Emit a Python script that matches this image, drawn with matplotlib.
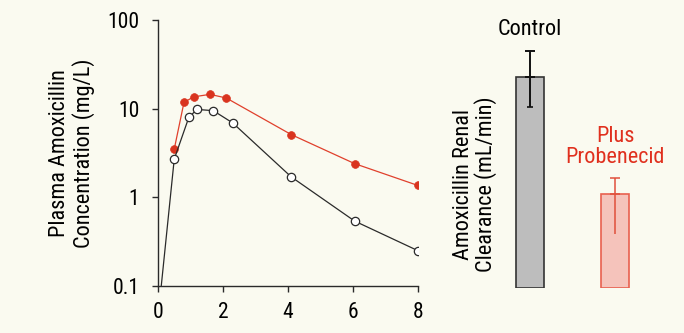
import matplotlib
matplotlib.use("Agg")
import matplotlib.pyplot as plt
from matplotlib import font_manager

names = {f.name for f in font_manager.fontManager.ttflist}
fam = 'DejaVu Sans'
for cand in ['Liberation Sans Narrow', 'Roboto Condensed', 'Open Sans Condensed', 'DejaVu Sans Condensed', 'Liberation Sans']:
    if cand in names:
        fam = cand
        break
plt.rcParams['font.family'] = [fam, 'DejaVu Sans']

# Data
time_control = [0.1, 0.5, 0.95, 1.2, 1.7, 2.3, 4.1, 6.05, 8.0]
conc_control = [0.1, 2.7, 8.0, 9.8, 9.5, 6.9, 1.70, 0.54, 0.25]
time_probenecid = [0.5, 0.8, 1.1, 1.6, 2.1, 4.1, 6.05, 8.0]
conc_probenecid = [3.5, 11.8, 13.6, 14.5, 13.2, 5.1, 2.4, 1.36]

bar_labels = ['Control', 'Plus\nProbenecid']
clearance = [236, 106]
err_upper = [29, 17]
err_lower = [33, 45]

x_ticks = [0, 2, 4, 6, 8]
y_ticks = [0.1, 1, 10, 100]
y_ticklabels = ['0.1', '1', '10', '100']

FS_TICK = 15.5
FS = 16
bg = '#fafaf0'
red = '#d9341f'
red_line = '#e0402c'
ink = '#2a2a2a'

fig = plt.figure(figsize=(6.84, 3.33), dpi=100, facecolor=bg)

ax = fig.add_axes([158/684, 1-286/333, 260/684, 266/333])
ax.set_facecolor('none')
ax.set_yscale('log')
ax.set_xlim(0, 8)
ax.set_ylim(0.1, 100)

ax.plot(time_probenecid, conc_probenecid, '-', color=red_line, lw=0.9,
        marker='o', ms=5.6, mfc=red, mec=red, mew=0.5, zorder=3)
ax.plot(time_control[1:], conc_control[1:], '-', color=ink, lw=0.9,
        marker='o', ms=6.0, mfc='white', mec=ink, mew=0.9, zorder=4)
ax.plot(time_control[:2], conc_control[:2], '-', color=ink, lw=0.9, zorder=3)

for s in ['top', 'right']:
    ax.spines[s].set_visible(False)
for s in ['left', 'bottom']:
    ax.spines[s].set_color(ink)
    ax.spines[s].set_linewidth(1.0)
ax.set_xticks(x_ticks)
ax.set_xticklabels([str(v) for v in x_ticks])
ax.set_yticks(y_ticks)
ax.set_yticklabels(y_ticklabels)
ax.minorticks_off()
ax.tick_params(axis='both', length=4.5, width=1.0, color=ink, labelsize=FS_TICK, labelcolor='black')
ax.tick_params(axis='x', pad=7)
ax.tick_params(axis='y', pad=9)
ax.set_ylabel('Plasma Amoxicillin\nConcentration (mg/L)', fontsize=FS, linespacing=1.1)
ax.yaxis.set_label_coords((95-158)/260, (286-153)/266)

# Bar chart
ax2 = fig.add_axes([487.5/684, 1-288.3/333, 170/684, 268.3/333])
ax2.set_facecolor('none')
ax2.set_xlim(-0.5, 1.5)
ax2.set_ylim(0, 300)
for s in ax2.spines.values():
    s.set_visible(False)
ax2.set_xticks([])
ax2.set_yticks([])

fills = ['#bdbdbd', '#f5c3bb']
edges = ['#333333', '#e8604f']
ecols = ['#111111', '#e0503c']
txtcols = ['black', '#e0301e']
xs = [0, 1]
ax2.bar(xs, clearance, width=0.32, color=fills, edgecolor=edges, linewidth=1.2, zorder=2)
for i in range(2):
    ax2.errorbar([xs[i]], [clearance[i]], yerr=[[0], [err_upper[i]]], fmt='none',
                 ecolor=ecols[i], elinewidth=1.4 if i == 0 else 1.1, capsize=3.5, capthick=1.4 if i == 0 else 1.1, zorder=3)
    ax2.errorbar([xs[i]], [clearance[i]], yerr=[[err_lower[i]], [0]], fmt='none',
                 ecolor=ecols[i], elinewidth=1.4 if i == 0 else 1.1,
                 capsize=2.5 if i == 0 else 0, capthick=1.2, zorder=3)
    top = clearance[i] + err_upper[i]
    off = 15.6 if i == 0 else 22.5
    ax2.annotate(bar_labels[i], xy=(xs[i], top), xytext=(0, off), textcoords='offset points',
                 ha='center', va='center', fontsize=FS, color=txtcols[i], linespacing=1.0)

ax2.set_ylabel('Amoxicillin Renal\nClearance (mL/min)', fontsize=FS, linespacing=1.0)
ax2.yaxis.set_label_coords((497-487.5)/170, (288.3-184)/268.3)

fig.savefig('out.png', dpi=100, facecolor=bg)
